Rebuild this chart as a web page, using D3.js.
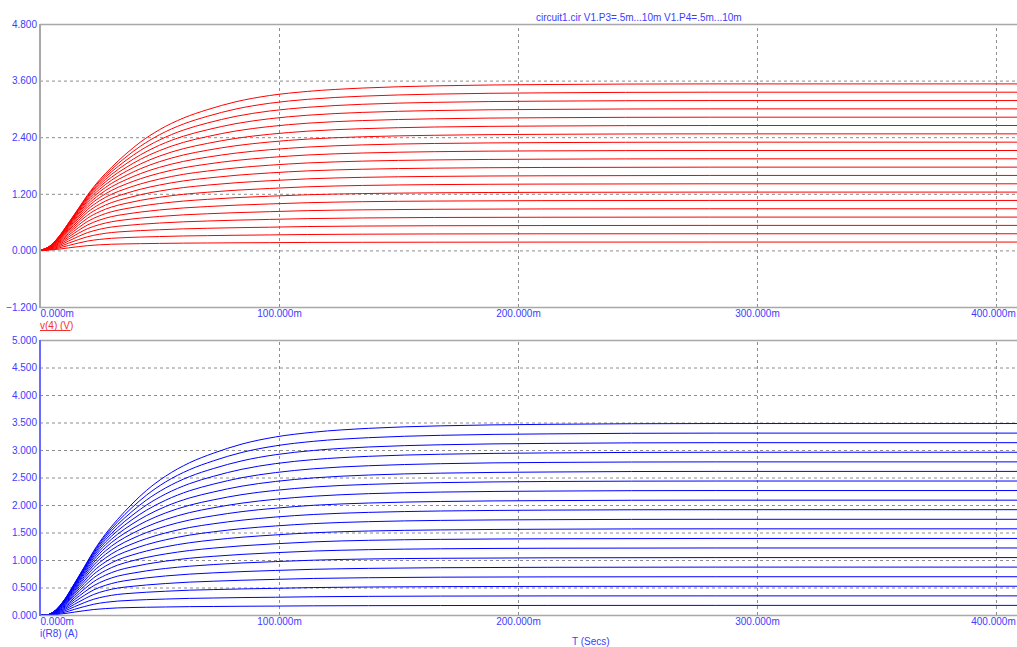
<!DOCTYPE html>
<html><head><meta charset="utf-8">
<script src="https://cdn.jsdelivr.net/npm/d3@7"></script>
<style>
html,body{margin:0;padding:0;background:#fff;overflow:hidden}
svg{display:block}
text{font-family:"Liberation Sans",Arial,sans-serif;font-size:10px}
</style></head><body>
<svg id="chart" width="1017" height="647"></svg>
<script>
// Sample times (ms) for the v(4) traces
const timeV = [0,4,8,12,16,20,25,30,36,42,50,60,70,82,96,112,135,165,210,280,410];
// Sample times (ms) for the i(R8) traces
const timeI = [0,2.5,6.5,10.5,14.5,18.5,22.5,27.5,32.5,38.5,44.5,52.5,62.5,72.5,84.5,98.5,114.5,137.5,167.5,212.5,282.5,410];

// v(4) in volts, one row per stepped value of P3/P4 (.5m ... 10m)
const v4 = [
 [0,.008,.027,.054,.079,.101,.119,.131,.138,.143,.148,.154,.157,.161,.164,.169,.172,.174,.176,.177,.177],
 [0,.016,.053,.105,.155,.199,.234,.257,.272,.283,.294,.306,.313,.321,.328,.337,.344,.349,.352,.353,.353],
 [0,.023,.078,.154,.227,.291,.344,.379,.402,.420,.438,.457,.469,.481,.492,.506,.516,.523,.527,.530,.530],
 [0,.030,.102,.200,.295,.379,.449,.496,.528,.554,.580,.606,.623,.641,.657,.674,.688,.698,.703,.706,.706],
 [0,.036,.124,.244,.360,.463,.549,.608,.651,.685,.720,.754,.777,.800,.821,.843,.860,.872,.879,.883,.883],
 [0,.042,.145,.285,.421,.542,.645,.717,.770,.813,.858,.900,.930,.959,.985,1.011,1.033,1.046,1.055,1.059,1.059],
 [0,.048,.164,.323,.478,.617,.736,.821,.886,.938,.993,1.046,1.082,1.118,1.149,1.180,1.205,1.221,1.231,1.236,1.236],
 [0,.053,.183,.359,.532,.687,.823,.920,.998,1.061,1.126,1.189,1.233,1.276,1.313,1.349,1.377,1.395,1.406,1.412,1.412],
 [0,.058,.199,.393,.581,.753,.905,1.015,1.105,1.180,1.258,1.332,1.384,1.434,1.477,1.517,1.549,1.569,1.582,1.589,1.589],
 [0,.063,.215,.423,.627,.814,.982,1.105,1.209,1.296,1.386,1.473,1.533,1.592,1.642,1.686,1.721,1.744,1.758,1.765,1.765],
 [0,.067,.229,.451,.670,.871,1.055,1.192,1.310,1.409,1.513,1.613,1.682,1.749,1.806,1.854,1.893,1.918,1.934,1.942,1.942],
 [0,.071,.242,.476,.708,.924,1.123,1.273,1.407,1.519,1.638,1.751,1.830,1.907,1.970,2.023,2.065,2.093,2.110,2.118,2.118],
 [0,.074,.254,.499,.743,.971,1.186,1.350,1.500,1.627,1.761,1.887,1.977,2.063,2.134,2.191,2.237,2.267,2.285,2.295,2.295],
 [0,.077,.265,.520,.774,1.015,1.245,1.423,1.589,1.731,1.881,2.023,2.123,2.220,2.298,2.360,2.409,2.441,2.461,2.471,2.471],
 [0,.080,.274,.537,.801,1.054,1.299,1.491,1.675,1.832,2.000,2.157,2.268,2.376,2.462,2.528,2.581,2.616,2.637,2.648,2.648],
 [0,.083,.282,.552,.825,1.089,1.349,1.555,1.757,1.931,2.116,2.290,2.413,2.532,2.626,2.697,2.753,2.790,2.813,2.824,2.824],
 [0,.085,.288,.565,.845,1.119,1.394,1.614,1.835,2.026,2.230,2.421,2.557,2.688,2.791,2.866,2.926,2.965,2.989,3.001,3.001],
 [0,.086,.293,.574,.861,1.144,1.434,1.669,1.909,2.119,2.342,2.551,2.700,2.843,2.955,3.034,3.098,3.139,3.164,3.177,3.177],
 [0,.087,.297,.582,.874,1.166,1.470,1.719,1.981,2.208,2.452,2.679,2.842,2.998,3.119,3.203,3.270,3.313,3.340,3.354,3.354],
 [0,.088,.300,.586,.883,1.183,1.500,1.765,2.047,2.295,2.559,2.806,2.983,3.152,3.283,3.371,3.442,3.488,3.516,3.530,3.530]
];

// i(R8) in amps, same stepping
const iR8 = [
 [0,0,.008,.027,.053,.078,.100,.117,.129,.136,.141,.146,.152,.155,.159,.162,.167,.170,.172,.174,.175,.175],
 [0,0,.016,.052,.104,.153,.196,.231,.253,.268,.279,.290,.302,.309,.317,.323,.332,.339,.344,.347,.348,.348],
 [0,0,.023,.077,.152,.224,.287,.339,.374,.396,.414,.432,.451,.462,.474,.485,.499,.509,.516,.520,.523,.523],
 [0,0,.030,.101,.197,.291,.374,.443,.489,.521,.546,.572,.598,.614,.632,.648,.665,.678,.688,.693,.696,.696],
 [0,0,.035,.122,.241,.355,.457,.541,.599,.642,.675,.710,.743,.766,.789,.810,.831,.848,.860,.867,.871,.871],
 [0,0,.041,.143,.281,.415,.534,.636,.707,.759,.802,.846,.887,.917,.946,.971,.997,1.019,1.031,1.040,1.044,1.044],
 [0,0,.047,.162,.318,.471,.608,.726,.810,.874,.925,.979,1.031,1.067,1.102,1.133,1.163,1.188,1.204,1.214,1.219,1.219],
 [0,0,.052,.180,.354,.525,.677,.811,.907,.984,1.046,1.110,1.172,1.216,1.258,1.295,1.330,1.358,1.375,1.386,1.392,1.392],
 [0,0,.057,.196,.387,.573,.742,.892,1.001,1.090,1.163,1.240,1.313,1.365,1.414,1.456,1.496,1.527,1.547,1.560,1.567,1.567],
 [0,0,.062,.212,.417,.618,.803,.968,1.090,1.192,1.278,1.367,1.452,1.512,1.570,1.619,1.662,1.697,1.720,1.733,1.740,1.740],
 [0,0,.066,.226,.445,.661,.859,1.040,1.175,1.292,1.389,1.492,1.590,1.658,1.724,1.781,1.828,1.866,1.891,1.907,1.915,1.915],
 [0,0,.070,.239,.469,.698,.911,1.107,1.255,1.387,1.498,1.615,1.726,1.804,1.880,1.942,1.995,2.036,2.064,2.080,2.088,2.088],
 [0,0,.073,.250,.492,.733,.957,1.169,1.331,1.479,1.604,1.736,1.861,1.949,2.034,2.104,2.160,2.206,2.235,2.253,2.263,2.263],
 [0,0,.076,.261,.513,.763,1.001,1.228,1.403,1.567,1.707,1.855,1.995,2.093,2.189,2.266,2.327,2.375,2.407,2.427,2.436,2.436],
 [0,0,.079,.270,.529,.790,1.039,1.281,1.470,1.652,1.806,1.972,2.127,2.236,2.343,2.428,2.493,2.545,2.579,2.600,2.611,2.611],
 [0,0,.082,.278,.544,.813,1.074,1.330,1.533,1.732,1.904,2.086,2.258,2.379,2.497,2.589,2.659,2.714,2.751,2.774,2.784,2.784],
 [0,0,.084,.284,.557,.833,1.103,1.374,1.591,1.809,1.998,2.199,2.387,2.521,2.650,2.752,2.826,2.885,2.923,2.947,2.959,2.959],
 [0,0,.085,.289,.566,.849,1.128,1.414,1.646,1.882,2.089,2.309,2.515,2.662,2.803,2.914,2.992,3.055,3.095,3.120,3.133,3.133],
 [0,0,.086,.293,.574,.862,1.150,1.449,1.695,1.953,2.177,2.418,2.641,2.802,2.956,3.075,3.158,3.224,3.267,3.293,3.307,3.307],
 [0,0,.087,.296,.578,.871,1.166,1.479,1.740,2.018,2.263,2.523,2.767,2.941,3.108,3.237,3.324,3.394,3.439,3.467,3.481,3.481]
];

const xTicks = [0,100,200,300,400];
const yTicksV = [-1.2,0,1.2,2.4,3.6,4.8];
const yTicksI = [0,0.5,1,1.5,2,2.5,3,3.5,4,4.5,5];
const titleText = "circuit1.cir V1.P3=.5m...10m V1.P4=.5m...10m";

const LABEL_BLUE = "#3c3cff";
const GRID = "#8c8c8c";
const FRAME = "#a8a8a8";

const svg = d3.select("#chart");
svg.append("rect").attr("width",1017).attr("height",647).attr("fill","#fff");

const plotLeft = 40, plotRight = 1017;
const x = d3.scaleLinear().domain([0, 408.8]).range([plotLeft, plotRight]);
const yV = d3.scaleLinear().domain([-1.2, 4.8]).range([307, 24]);
const yI = d3.scaleLinear().domain([0, 5]).range([615, 340]);
const fmtY = d3.format(".3f");
const fmtX = v => d3.format(".3f")(v) + "m";

function panel(y, yTicks, top, bottom) {
  const g = svg.append("g");
  // horizontal grid + value labels
  const ya = g.append("g").attr("transform", `translate(${plotLeft},0)`)
    .call(d3.axisLeft(y).tickValues(yTicks).tickFormat(fmtY)
      .tickSize(-(plotRight - plotLeft)).tickPadding(3));
  ya.select(".domain").remove();
  ya.selectAll(".tick line").attr("stroke", GRID).attr("stroke-dasharray", "3,3");
  ya.selectAll(".tick text").attr("fill", LABEL_BLUE).style("font-size", "10px")
    .style("font-family", '"Liberation Sans",Arial,sans-serif');
  // vertical grid + time labels
  const xa = g.append("g").attr("transform", `translate(0,${bottom})`)
    .call(d3.axisBottom(x).tickValues(xTicks).tickFormat(fmtX)
      .tickSize(-(bottom - top)).tickPadding(3));
  xa.select(".domain").remove();
  xa.selectAll(".tick line").attr("stroke", GRID).attr("stroke-dasharray", "3,3");
  xa.selectAll(".tick text").attr("fill", LABEL_BLUE).style("font-size", "10px")
    .style("font-family", '"Liberation Sans",Arial,sans-serif')
    .attr("text-anchor", d => d === 0 ? "start" : "middle")
    .attr("dx", d => d === 400 ? -3 : 0);
  return g;
}

function frame(top, bottom, leftColor) {
  svg.append("line").attr("x1", plotLeft).attr("x2", plotRight).attr("y1", top + 0.5).attr("y2", top + 0.5)
    .attr("stroke", FRAME).attr("stroke-width", 1.5);
  svg.append("line").attr("x1", plotLeft).attr("x2", plotRight).attr("y1", bottom + 0.5).attr("y2", bottom + 0.5)
    .attr("stroke", FRAME).attr("stroke-width", 1.5);
  svg.append("line").attr("x1", plotLeft).attr("x2", plotLeft).attr("y1", top).attr("y2", bottom + 1)
    .attr("stroke", leftColor).attr("stroke-width", 2);
}

function traces(times, rows, y, color) {
  const line = d3.line().x((d, i) => x(times[i])).y(d => y(d)).curve(d3.curveMonotoneX);
  svg.append("g").selectAll("path").data(rows).join("path")
    .attr("d", line).attr("fill", "none").attr("stroke", color).attr("stroke-width", 1);
}

panel(yV, yTicksV, 24, 307);
panel(yI, yTicksI, 340, 615);
traces(timeV, v4, yV, "#ff0000");
traces(timeI, iR8, yI, "#0000ff");
frame(24, 307, FRAME);
frame(340, 615, "#6a6aff");

// title
svg.append("text").attr("x", 536).attr("y", 21).attr("fill", LABEL_BLUE).text(titleText);

// trace names
svg.append("text").attr("x", 40).attr("y", 329).attr("fill", "#f03030").text("v(4) (V)");
svg.append("line").attr("x1", 40).attr("x2", 70).attr("y1", 330.5).attr("y2", 330.5).attr("stroke", "#f03030");
svg.append("text").attr("x", 40).attr("y", 637).attr("fill", LABEL_BLUE).text("i(R8) (A)");
svg.append("text").attr("x", 572).attr("y", 645).attr("fill", LABEL_BLUE).text("T (Secs)");
</script>
</body></html>
